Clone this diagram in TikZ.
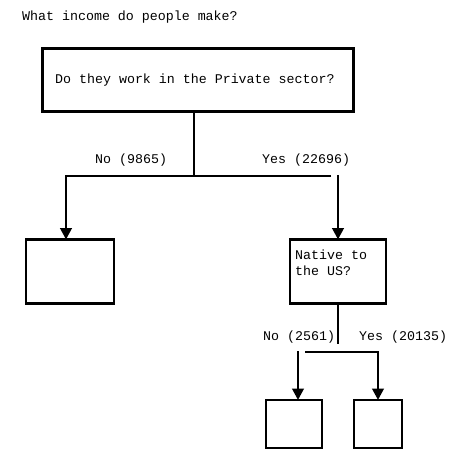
\documentclass[tikz,border=0pt]{standalone}
\usepackage{fontspec}
\setmonofont{Liberation Mono}
\usetikzlibrary{arrows.meta}
\begin{document}
\begin{tikzpicture}[x=1pt,y=-1pt,
  txt/.style={font=\ttfamily\fontsize{13.3}{16.2}\selectfont, inner sep=0pt, anchor=base west},
  box/.style={draw, line width=2.8pt, inner sep=0pt, outer sep=0pt},
  conn/.style={line width=2.7pt},
  arr/.style={line width=2.7pt, -{Triangle[width=11.5pt,length=11.5pt]}}]
\useasboundingbox (0,0) rectangle (460,462);
% title
\node[txt] (title) at (22,21) {What income do people make?};
% boxes
\node[box, minimum width=311pt, minimum height=63pt] (q1) at (198,80) {};
\node[txt] (q1t) at (55,84) {Do they work in the Private sector?};
\node[box, minimum width=88pt, minimum height=64pt] (leafA) at (70,271.5) {};
\node[box, minimum width=96pt, minimum height=64pt] (native) at (338,271.5) {};
\node[txt] (nativet) at (295,259.5) {\begin{tabular}[t]{@{}l@{}}Native to\\the US?\end{tabular}};
\node[box, minimum width=56pt, minimum height=48pt] (leafB) at (294,424) {};
\node[box, minimum width=48pt, minimum height=48pt] (leafC) at (378,424) {};
% labels
\node[txt] (no1) at (95,164) {No (9865)};
\node[txt] (yes1) at (262,164) {Yes (22696)};
\node[txt] (no2) at (263,340) {No (2561)};
\node[txt] (yes2) at (359,340) {Yes (20135)};
% connectors, first split
\coordinate (j1) at (194,176);
\coordinate (h1) at (331,176);
\coordinate (aL) at (66,176);
\coordinate (aR) at (338,175);
\draw[conn] (q1.south -| j1) -- (j1);
\draw[arr] (h1) -- (aL) -- (aL |- leafA.north);
\draw[arr] (aR) -- (native.north);
% connectors, second split
\coordinate (j2) at (338,344);
\coordinate (h2) at (305,352);
\coordinate (aL2) at (298,351);
\draw[conn] (native.south) -- (j2);
\draw[arr] (h2) -- (h2 -| leafC.north) -- (leafC.north);
\draw[arr] (aL2) -- (aL2 |- leafB.north);
\end{tikzpicture}
\end{document}
